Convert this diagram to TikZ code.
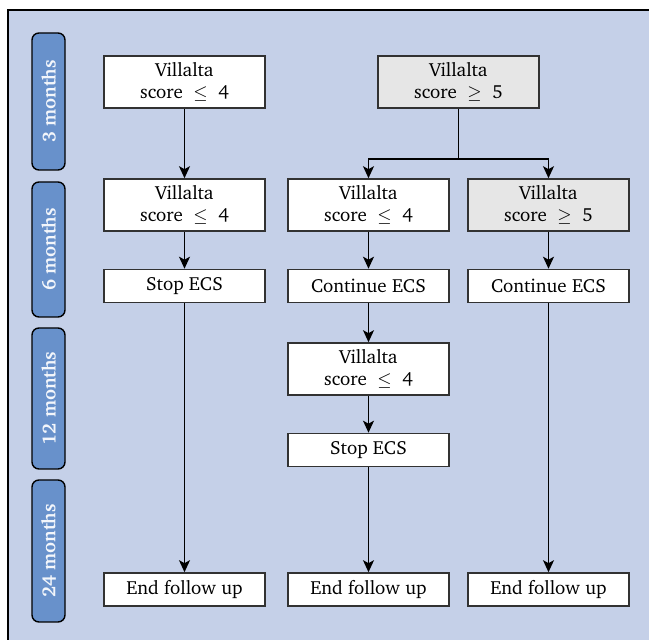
\documentclass[tikz,border=0pt]{standalone}
\usepackage[T1]{fontenc}
\usepackage{charter}
\usetikzlibrary{arrows.meta}
\definecolor{bgBlue}{RGB}{197,208,232}
\definecolor{pillBlue}{RGB}{104,145,203}
\definecolor{boxGray}{RGB}{230,230,230}
\definecolor{lineGray}{RGB}{50,50,50}
\begin{document}
\begin{tikzpicture}[x=0.5pt, y=-0.5pt, font=\fontsize{9.5}{11}\selectfont,
    boxStyle/.style={rectangle, draw=lineGray, line width=0.8pt, fill=white, minimum width=80.5pt, align=center, inner sep=0pt},
    tallStyle/.style={boxStyle, minimum height=26pt},
    shortStyle/.style={boxStyle, minimum height=16.5pt},
    grayStyle/.style={fill=boxGray},
    pillStyle/.style={rectangle, rounded corners=3.5pt, draw=black, line width=0.7pt, fill=pillBlue, text=white!92!pillBlue, font=\fontsize{9.5}{11}\selectfont\bfseries, rotate=90, minimum height=16.5pt, inner sep=0pt},
    arrowStyle/.style={-{Stealth[length=6pt, width=5.5pt, inset=1.5pt]}, line width=0.75pt}]
    \useasboundingbox (0,0) rectangle (649,640);
    \draw[fill=bgBlue, line width=1pt] (8,10) rectangle (655,646);

    \node[pillStyle, minimum width=68.5pt] (P_3)  at (48.5, 101.5) {3 months};
    \node[pillStyle, minimum width=67.5pt] (P_6)  at (48.5, 249.5) {6 months};
    \node[pillStyle, minimum width=70.5pt] (P_12) at (48.5, 398.5) {12 months};
    \node[pillStyle, minimum width=71pt]   (P_24) at (48.5, 551)   {24 months};

    \node[tallStyle]            (L_3)  at (184.5,  82) {Villalta\\score $\;\leq\;$ 4};
    \node[tallStyle, grayStyle] (M_3)  at (458.5,  82) {Villalta\\score $\;\geq\;$ 5};

    \node[tallStyle]            (L_6)  at (184.5, 205) {Villalta\\score $\;\leq\;$ 4};
    \node[tallStyle]            (M_6)  at (368.5, 205) {Villalta\\score $\;\leq\;$ 4};
    \node[tallStyle, grayStyle] (R_6)  at (548.5, 205) {Villalta\\score $\;\geq\;$ 5};

    \node[shortStyle] (L_6b) at (184.5, 286) {Stop ECS};
    \node[shortStyle] (M_6b) at (368.5, 286) {Continue ECS};
    \node[shortStyle] (R_6b) at (548.5, 286) {Continue ECS};

    \node[tallStyle]  (M_12)  at (368.5, 369) {Villalta\\score $\;\leq\;$ 4};
    \node[shortStyle] (M_12b) at (368.5, 450) {Stop ECS};

    \node[shortStyle] (L_24) at (184.5, 589.5) {End follow up};
    \node[shortStyle] (M_24) at (368.5, 589.5) {End follow up};
    \node[shortStyle] (R_24) at (548.5, 589.5) {End follow up};

    \coordinate (split) at (458.5, 159);

    \draw[arrowStyle] (L_3.south) -- (L_6.north);
    \draw[arrowStyle] (L_6.south) -- (L_6b.north);
    \draw[arrowStyle] (L_6b.south) -- (L_24.north);

    \draw[line width=0.75pt] (M_3.south) -- (split);
    \draw[arrowStyle] (split) -| (M_6.north);
    \draw[arrowStyle] (split) -| (R_6.north);

    \draw[arrowStyle] (M_6.south) -- (M_6b.north);
    \draw[arrowStyle] (M_6b.south) -- (M_12.north);
    \draw[arrowStyle] (M_12.south) -- (M_12b.north);
    \draw[arrowStyle] (M_12b.south) -- (M_24.north);

    \draw[arrowStyle] (R_6.south) -- (R_6b.north);
    \draw[arrowStyle] (R_6b.south) -- (R_24.north);
\end{tikzpicture}
\end{document}
